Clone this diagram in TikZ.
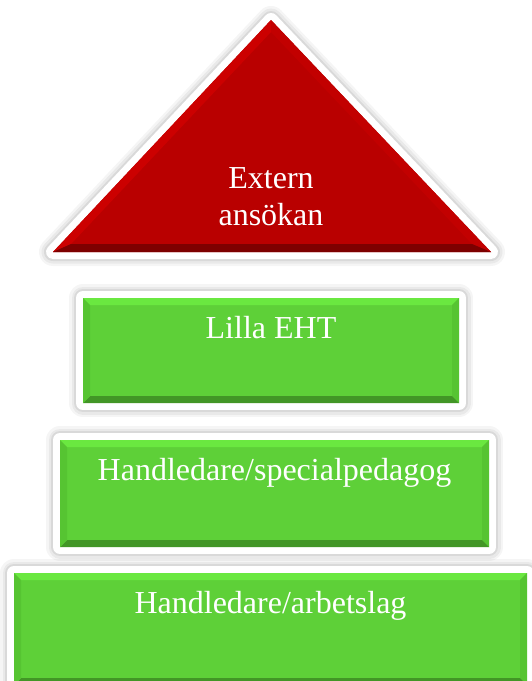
\documentclass[tikz,border=0pt]{standalone}
\usepackage{fontspec}
\setmainfont{Liberation Serif}
\usetikzlibrary{calc}
\definecolor{facegreen}{RGB}{94,208,56}
\definecolor{toplight}{RGB}{106,232,64}
\definecolor{sidegreen}{RGB}{86,196,50}
\definecolor{lowgreen}{RGB}{66,150,38}
\definecolor{facered}{RGB}{185,0,0}
\definecolor{sidered}{RGB}{204,0,0}
\definecolor{lowred}{RGB}{125,0,0}

\begin{document}
\begin{tikzpicture}[x=1pt,y=-1pt,
  framed/.style={
    preaction={draw=black, draw opacity=0.04, line width=28pt, line join=round},
    preaction={draw=black, draw opacity=0.05, line width=23pt, line join=round},
    preaction={draw=black, draw opacity=0.07, line width=18pt, line join=round},
    preaction={draw=white, line width=14pt, line join=round}},
  greenbox/.style={rectangle, inner sep=0pt, outer sep=0pt, framed, fill=facegreen,
    path picture={
      \path (path picture bounding box.north west) coordinate (a)
            (path picture bounding box.north east) coordinate (b)
            (path picture bounding box.south east) coordinate (c)
            (path picture bounding box.south west) coordinate (d);
      \path ($(a)+(7pt,-7pt)$) coordinate (ia) ($(b)+(-7pt,-7pt)$) coordinate (ib)
            ($(c)+(-7pt,7pt)$) coordinate (ic) ($(d)+(7pt,7pt)$) coordinate (id);
      \fill[toplight] (a) -- (b) -- (ib) -- (ia) -- cycle;
      \fill[sidegreen] (b) -- (c) -- (ic) -- (ib) -- cycle;
      \fill[lowgreen] (c) -- (d) -- (id) -- (ic) -- cycle;
      \fill[sidegreen] (d) -- (a) -- (ia) -- (id) -- cycle;
    }},
  bigtext/.style={text=white, font=\fontsize{32}{37}\selectfont},
  boxtext/.style={bigtext, anchor=base, label distance=-40pt}]
\useasboundingbox (0,0) rectangle (531,681);

% top triangle
\coordinate (apex) at (271,20);
\coordinate (left) at (53,252);
\coordinate (right) at (491,252);
\coordinate (iapex) at (271,32);
\coordinate (ileft) at (71,244);
\coordinate (iright) at (472,244);
\fill[framed, facered] (apex) -- (left) -- (right) -- cycle;
\fill[sidered] (apex) -- (left) -- (ileft) -- (iapex) -- cycle;
\fill[sidered!95!black] (apex) -- (right) -- (iright) -- (iapex) -- cycle;
\fill[lowred] (left) -- (right) -- (iright) -- (ileft) -- cycle;
\node[bigtext, align=center, anchor=north, inner sep=0pt] (ext) at (271,167) {Extern\\ansökan};

% green levels
\node[greenbox, minimum width=376pt, minimum height=105pt,
  label={[boxtext]north:Lilla EHT}] (eht) at (271,350.5) {};
\node[greenbox, minimum width=429pt, minimum height=107pt,
  label={[boxtext]north:Handledare/specialpedagog}] (spec) at (274.5,493.5) {};
\node[greenbox, minimum width=513pt, minimum height=112pt,
  label={[boxtext]north:Handledare/arbetslag}] (arb) at (270.5,629) {};
\end{tikzpicture}
\end{document}
